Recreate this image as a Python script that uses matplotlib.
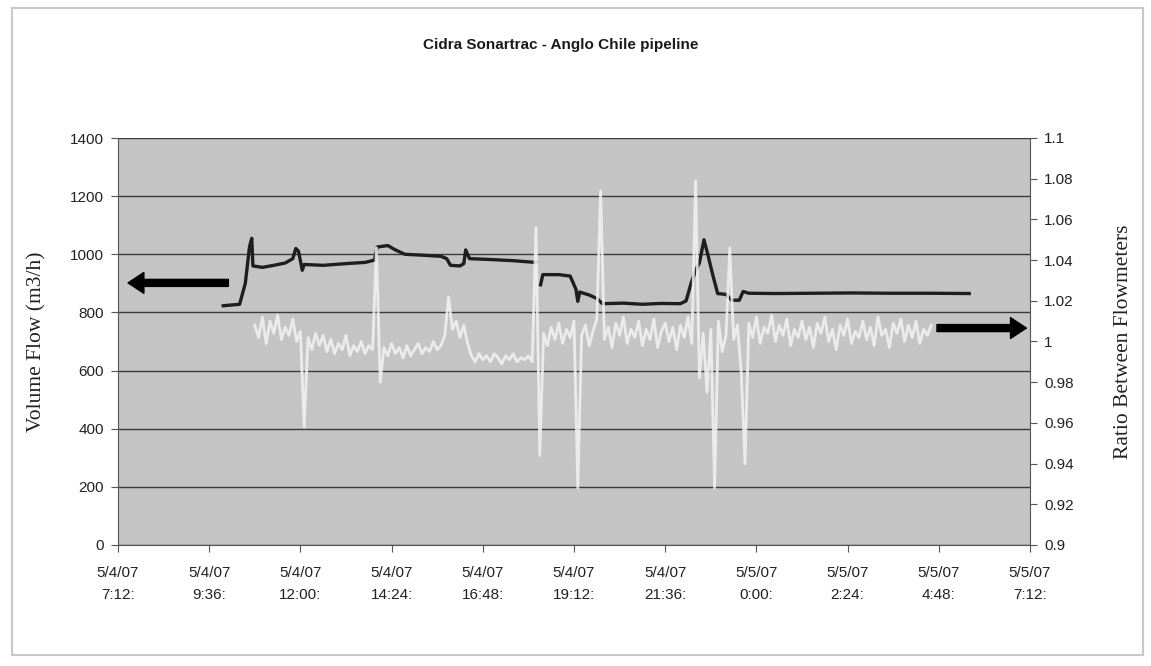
import numpy as np
import matplotlib
matplotlib.use("Agg")
import matplotlib.pyplot as plt
from matplotlib.patches import Rectangle

# time axis in hours from 5/4/07 00:00
tick_hours = [7.2, 9.6, 12.0, 14.4, 16.8, 19.2, 21.6, 24.0, 26.4, 28.8, 31.2]
tick_labels = ["5/4/07\n7:12:", "5/4/07\n9:36:", "5/4/07\n12:00:", "5/4/07\n14:24:",
               "5/4/07\n16:48:", "5/4/07\n19:12:", "5/4/07\n21:36:", "5/5/07\n0:00:",
               "5/5/07\n2:24:", "5/5/07\n4:48:", "5/5/07\n7:12:"]

# volume flow (m3/h); NaN = logging gap
flow_hours = [9.97, 10.40, 10.55, 10.66, 10.72, 10.75, 11.00, 11.30, 11.60, 11.80,
              11.88, 11.95, 12.05, 12.10, 12.60, 13.20, 13.70, 13.95, 14.02, 14.30,
              14.50, 14.75, 15.20, 15.70, 15.85, 15.95, 16.20, 16.30, 16.35, 16.45,
              17.00, 17.60, 18.20, 18.26, 18.32, 18.38, 18.80, 19.10, 19.25, 19.30,
              19.35, 19.60, 19.80, 19.95, 20.50, 21.00, 21.50, 22.00, 22.15, 22.28,
              22.40, 22.50, 22.62, 22.72, 22.85, 22.98, 23.20, 23.35, 23.55, 23.65,
              23.80, 24.50, 25.50, 26.50, 27.50, 28.50, 29.60]
flow = [823, 828, 900, 1025, 1055, 960, 955, 962, 970, 985,
        1020, 1010, 945, 965, 962, 968, 972, 980, 1025, 1030,
        1015, 1000, 997, 993, 985, 962, 960, 968, 1015, 985,
        982, 978, 972, np.nan, 895, 930, 930, 925, 880, 838,
        870, 860, 848, 830, 832, 828, 831, 830, 840, 900,
        945, 970, 1050, 1000, 930, 865, 862, 842, 842, 872,
        866, 865, 866, 867, 866, 866, 865]

# ratio between flowmeters, one reading every 0.1 h from 10.8 h
ratio_start = 10.8
ratio_step = 0.1
ratio = [1.008, 1.002, 1.012, 0.999, 1.010, 1.004, 1.013, 1.001, 1.007, 1.003,
         1.011, 1.000, 1.005, 0.958, 1.002, 0.996, 1.004, 0.998, 1.003, 0.995,
         1.001, 0.994, 0.999, 0.996, 1.003, 0.993, 0.998, 0.995, 1.000, 0.994,
         0.998, 0.996, 1.046, 0.980, 0.997, 0.993, 0.999, 0.994, 0.997, 0.992,
         0.998, 0.993, 0.996, 0.999, 0.994, 0.997, 0.995, 1.000, 0.996, 0.998,
         1.003, 1.022, 1.006, 1.010, 1.002, 1.008, 0.999, 0.993, 0.990, 0.994,
         0.991, 0.993, 0.990, 0.994, 0.992, 0.989, 0.993, 0.991, 0.994, 0.990,
         0.992, 0.991, 0.993, 0.990, 1.056, 0.944, 1.004, 0.998, 1.007, 1.001,
         1.009, 0.999, 1.006, 1.002, 1.010, 0.928, 1.003, 1.008, 0.998, 1.005,
         1.011, 1.074, 1.001, 1.007, 0.997, 1.009, 1.003, 1.012, 0.999, 1.006,
         1.002, 1.010, 0.998, 1.006, 1.001, 1.011, 0.997, 1.005, 1.009, 1.000,
         1.007, 0.996, 1.008, 1.002, 1.012, 0.999, 1.079, 0.982, 1.004, 0.975,
         1.006, 0.928, 1.010, 0.995, 1.003, 1.046, 1.001, 1.008, 0.985, 0.940,
         1.009, 1.002, 1.012, 0.999, 1.007, 1.004, 1.013, 1.000, 1.008, 1.003,
         1.011, 0.998, 1.006, 1.002, 1.010, 1.001, 1.007, 0.997, 1.009, 1.004,
         1.012, 1.000, 1.006, 0.996, 1.008, 1.003, 1.011, 0.999, 1.005, 1.002,
         1.010, 1.001, 1.007, 0.998, 1.012, 1.003, 1.006, 0.997, 1.009, 1.004,
         1.011, 1.000, 1.008, 1.002, 1.010, 0.999, 1.006, 1.003, 1.008]
ratio_hours = ratio_start + ratio_step * np.arange(len(ratio))

flow_ticks = [0, 200, 400, 600, 800, 1000, 1200, 1400]
ratio_ticks = [0.9, 0.92, 0.94, 0.96, 0.98, 1.0, 1.02, 1.04, 1.06, 1.08, 1.1]
ratio_tick_labels = ["0.9", "0.92", "0.94", "0.96", "0.98", "1", "1.02", "1.04", "1.06", "1.08", "1.1"]

sans = "Liberation Sans"
serif = "Liberation Serif"

fig = plt.figure(figsize=(11.51, 6.66), dpi=100)
fig.patches.append(Rectangle((12 / 1151, 1 - 655 / 666), 1131 / 1151, 647 / 666,
                             transform=fig.transFigure, fill=False,
                             edgecolor="#c8c8c8", lw=1.5))

ax = fig.add_axes([118 / 1151, 1 - 545 / 666, 912 / 1151, 407 / 666])
ax.set_facecolor("#c4c4c4")
ax.set_xlim(7.2, 31.2)
ax.set_ylim(0, 1400)
ax.set_yticks(flow_ticks)
ax.set_xticks(tick_hours)
ax.set_xticklabels(tick_labels, fontfamily=sans, fontsize=11, color="#222222", linespacing=1.7)
for lab in ax.get_yticklabels():
    lab.set_fontfamily(sans)
    lab.set_fontsize(11)
    lab.set_color("#222222")
ax.yaxis.grid(True, color="#3a3a3a", lw=1)
ax.set_axisbelow(True)
ax.tick_params(axis="x", direction="out", length=5, color="#555555", pad=10)
ax.tick_params(axis="y", direction="out", length=5, color="#555555", pad=5)
for s in ax.spines.values():
    s.set_color("#555555")
ax.spines["top"].set_visible(False)

ax.plot(flow_hours, flow, color="#1e1e1e", lw=2.4, zorder=3)
ax.set_ylabel("Volume Flow (m3/h)", fontfamily=serif, fontsize=15.5, color="#222222", labelpad=17)

ax2 = ax.twinx()
ax2.set_ylim(0.9, 1.1)
ax2.set_yticks(ratio_ticks)
ax2.set_yticklabels(ratio_tick_labels, fontfamily=sans, fontsize=11, color="#222222")
ax2.tick_params(axis="y", direction="out", length=5, color="#555555", pad=5)
for s in ax2.spines.values():
    s.set_visible(False)
ax2.plot(ratio_hours, ratio, color="#f2f2f2", lw=2.0, alpha=0.85, zorder=2)
ax2.set_ylabel("Ratio Between Flowmeters", fontfamily=serif, fontsize=15.5, color="#222222", labelpad=29)

arrow = dict(arrowstyle="simple,head_length=0.95,head_width=1.25,tail_width=0.42",
             color="black", shrinkA=0, shrinkB=0, mutation_scale=12)
ax2.annotate("", xy=(0.011, 0.644), xytext=(0.121, 0.644),
             xycoords="axes fraction", textcoords="axes fraction", arrowprops=arrow)
ax2.annotate("", xy=(0.996, 0.533), xytext=(0.898, 0.533),
             xycoords="axes fraction", textcoords="axes fraction", arrowprops=arrow)

fig.text(0.487, 0.932, "Cidra Sonartrac - Anglo Chile pipeline", ha="center", va="center",
         fontfamily=sans, fontsize=11, fontweight="bold", color="#1a1a1a")

fig.savefig("out.png", dpi=100, facecolor="white")
